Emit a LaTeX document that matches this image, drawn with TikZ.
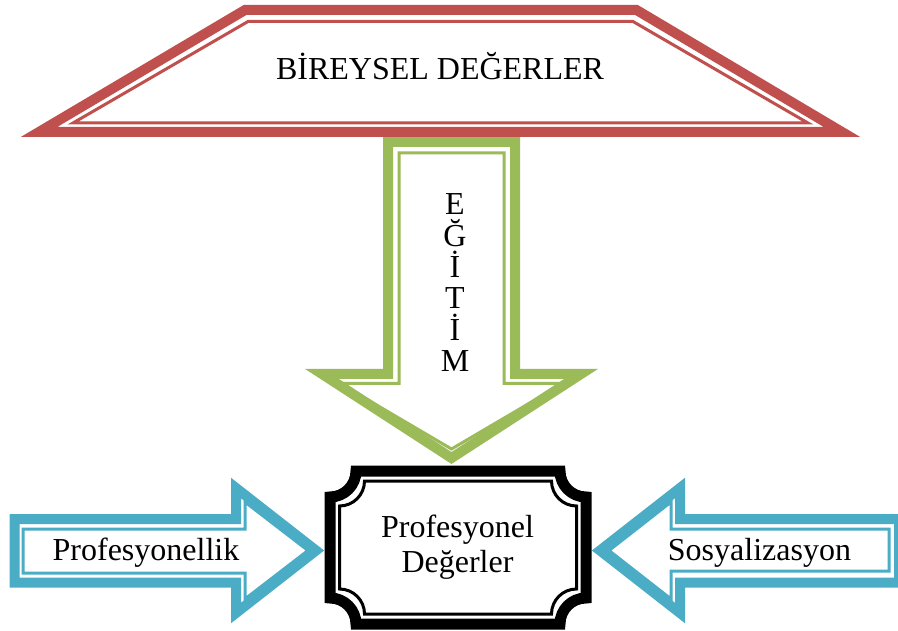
\documentclass[tikz,border=0pt]{standalone}
\usepackage{fontspec}
\setmainfont{Liberation Serif}
\definecolor{cred}{HTML}{C0504D}
\definecolor{cgreen}{HTML}{9BBB59}
\definecolor{cblue}{HTML}{4BACC6}
% plaque outline: x1 y1 x2 y2 r (concave quarter circles at the corners)
\newcommand\plaquepath[5]{%
  ({#1+#5},#2) -- ({#3-#5},#2)
  .. controls ({#3-#5},{#2+0.552*#5}) and ({#3-0.552*#5},{#2+#5}) .. (#3,{#2+#5})
  -- (#3,{#4-#5})
  .. controls ({#3-0.552*#5},{#4-#5}) and ({#3-#5},{#4-0.552*#5}) .. ({#3-#5},#4)
  -- ({#1+#5},#4)
  .. controls ({#1+#5},{#4-0.552*#5}) and ({#1+0.552*#5},{#4-#5}) .. (#1,{#4-#5})
  -- (#1,{#2+#5})
  .. controls ({#1+0.552*#5},{#2+#5}) and ({#1+#5},{#2+0.552*#5}) .. cycle}

\begin{document}
\begin{tikzpicture}[x=1pt, y=-1pt, line join=miter,
                    font=\fontsize{32}{36}\selectfont,
                    thickline/.style={line width=10pt, fill=white},
                    thinline/.style={line width=3pt},
                    lbl/.style={anchor=base, inner sep=0pt}]
  \useasboundingbox (0,0) rectangle (898,631);
  % education arrow (drawn first, its top goes under the trapezoid)
  \draw[thickline, draw=cgreen] (388,142) -- (515,142) -- (515,374) -- (581,374)
        -- (451.5,458) -- (322,374) -- (388,374) -- cycle;
  \draw[thinline, draw=cgreen] (399,153) -- (504,153) -- (504,383.5) -- (563,383.5)
        -- (451.5,449) -- (340,383.5) -- (399,383.5) -- cycle;
  \foreach \ch [count=\i] in {E,Ğ,İ,T,İ,M}
    \node[lbl] (egitim\i) at (455,{215+31.3*(\i-1)}) {\ch};
  % individual values
  \draw[thickline, draw=cred] (245,10) -- (636.5,10) -- (842,132) -- (39,132) -- cycle;
  \draw[thinline, draw=cred] (248,21.5) -- (633,21.5) -- (808,123) -- (73,123) -- cycle;
  \node[lbl] (bireysel) at (440,80) {BİREYSEL DEĞERLER};
  % professional values
  \draw[line width=11pt, fill=white] \plaquepath{330}{471}{586}{624}{26};
  \draw[thinline] \plaquepath{339.5}{481}{576.5}{614}{25};
  \node[lbl] (prof) at (457.5,537.3) {Profesyonel};
  \node[lbl] (deger) at (457.5,572.7) {Değerler};
  % side arrows
  \draw[thickline, draw=cblue] (14.5,519) -- (236,519) -- (236,488) -- (316,550.5)
        -- (236,613) -- (236,582.5) -- (14.5,582.5) -- cycle;
  \draw[thinline, draw=cblue] (23,529) -- (245,529) -- (245,502) -- (308,550.5)
        -- (245,599) -- (245,573) -- (23,573) -- cycle;
  \node[lbl] (profes) at (146,560) {Profesyonellik};
  \draw[thickline, draw=cblue] (899,519) -- (680,519) -- (680,488) -- (600,550.5)
        -- (680,613) -- (680,582.5) -- (899,582.5) -- cycle;
  \draw[thinline, draw=cblue] (889,529) -- (671,529) -- (671,502) -- (609,550.5)
        -- (671,599) -- (671,571) -- (889,571) -- cycle;
  \node[lbl] (sosyal) at (759.5,560) {Sosyalizasyon};
\end{tikzpicture}
\end{document}
